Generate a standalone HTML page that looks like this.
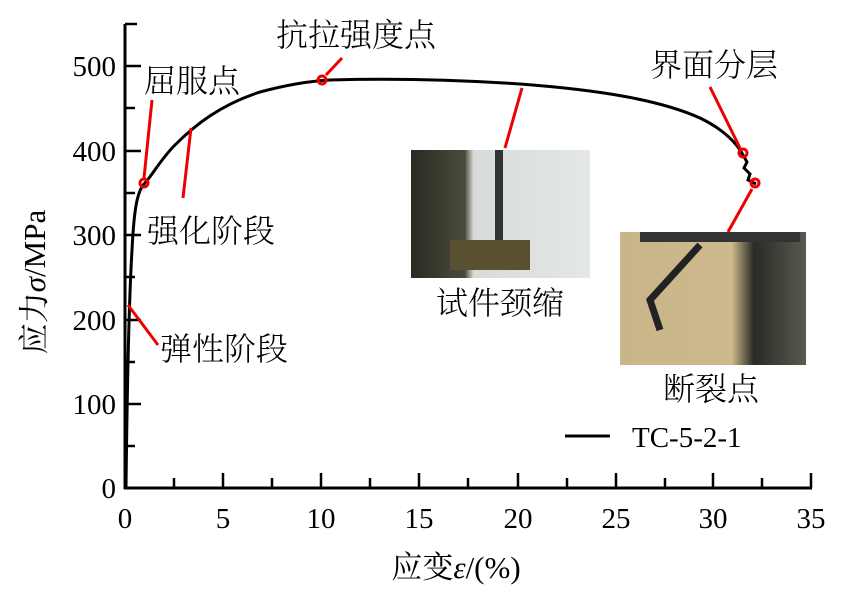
<!DOCTYPE html>
<html><head><meta charset="utf-8"><style>
body{margin:0;background:#fff}
svg text{font-family:"Liberation Serif","Noto Serif CJK SC","Noto Sans CJK SC",serif;fill:#000}
</style></head><body>
<svg width="857" height="599" viewBox="0 0 857 599" xmlns="http://www.w3.org/2000/svg">
<defs>
<linearGradient id="p1" x1="0" x2="1"><stop offset="0" stop-color="#2a2a22"/><stop offset="0.3" stop-color="#4a4a3c"/><stop offset="0.35" stop-color="#d8dcd8"/><stop offset="1" stop-color="#e4e8e4"/></linearGradient>
<linearGradient id="p2" x1="0" x2="1"><stop offset="0" stop-color="#c8b58a"/><stop offset="0.6" stop-color="#cdb98c"/><stop offset="0.72" stop-color="#2a2a26"/><stop offset="1" stop-color="#5a5a50"/></linearGradient>
</defs>
<g stroke="#000" stroke-width="3" fill="none">
<line x1="125" y1="24" x2="125" y2="489"/>
<line x1="124" y1="488" x2="812" y2="488"/>
</g>
<g stroke="#000" stroke-width="2.5">
<line x1="125" y1="24" x2="137" y2="24"/>
<line x1="125" y1="66" x2="141" y2="66"/>
<line x1="125" y1="108" x2="135" y2="108"/>
<line x1="125" y1="151" x2="141" y2="151"/>
<line x1="125" y1="193" x2="135" y2="193"/>
<line x1="125" y1="235" x2="141" y2="235"/>
<line x1="125" y1="277" x2="135" y2="277"/>
<line x1="125" y1="320" x2="141" y2="320"/>
<line x1="125" y1="362" x2="135" y2="362"/>
<line x1="125" y1="404" x2="141" y2="404"/>
<line x1="125" y1="446" x2="135" y2="446"/>
<line x1="174" y1="488" x2="174" y2="478"/>
<line x1="223" y1="488" x2="223" y2="473"/>
<line x1="272" y1="488" x2="272" y2="478"/>
<line x1="321" y1="488" x2="321" y2="473"/>
<line x1="370" y1="488" x2="370" y2="478"/>
<line x1="419" y1="488" x2="419" y2="473"/>
<line x1="468" y1="488" x2="468" y2="478"/>
<line x1="518" y1="488" x2="518" y2="473"/>
<line x1="567" y1="488" x2="567" y2="478"/>
<line x1="616" y1="488" x2="616" y2="473"/>
<line x1="665" y1="488" x2="665" y2="478"/>
<line x1="713" y1="488" x2="713" y2="473"/>
<line x1="762" y1="488" x2="762" y2="478"/>
<line x1="811" y1="488" x2="811" y2="473"/>
</g>
<g font-size="29" text-anchor="end">
<text x="116" y="498">0</text><text x="116" y="414">100</text><text x="116" y="330">200</text>
<text x="116" y="245">300</text><text x="116" y="161">400</text><text x="116" y="76">500</text>
</g>
<g font-size="29" text-anchor="middle">
<text x="125" y="528">0</text><text x="223" y="528">5</text><text x="321" y="528">10</text>
<text x="419" y="528">15</text><text x="518" y="528">20</text><text x="616" y="528">25</text>
<text x="713" y="528">30</text><text x="811" y="528">35</text>
</g>
<text x="456" y="578" font-size="31" text-anchor="middle">应变<tspan font-style="italic">ε</tspan>/(%)</text>
<text transform="translate(45,282) rotate(-90)" font-size="31" text-anchor="middle">应力<tspan font-style="italic">σ</tspan>/MPa</text>
<rect x="411" y="150" width="179" height="128" fill="url(#p1)"/>
<rect x="495" y="150" width="8" height="120" fill="#333"/>
<rect x="450" y="240" width="80" height="30" fill="#5a5032"/>
<rect x="620" y="232" width="186" height="133" fill="url(#p2)"/>
<path d="M700 245 L650 300 L660 330" stroke="#222" stroke-width="7" fill="none"/>
<rect x="640" y="232" width="160" height="10" fill="#333"/>
<path d="M126 488 C127 400,129 300,132 250 C134 210,137 192,144 184 C152 176,160 160,175 145 C195 125,220 105,260 92 C290 84,310 81,330 80 C400 78,460 80,520 84 C600 90,660 100,700 118 C725 130,738 145,743 155 L747 162 L744 168 L750 174 L748 180 L756 184" stroke="#000" stroke-width="3" fill="none"/>
<g stroke="#e00" stroke-width="3" fill="none">
<line x1="152" y1="100" x2="144" y2="178"/>
<line x1="191" y1="128" x2="183" y2="198"/>
<line x1="326" y1="75" x2="342" y2="58"/>
<line x1="522" y1="88" x2="505" y2="148"/>
<line x1="710" y1="87" x2="740" y2="148"/>
<line x1="752" y1="189" x2="728" y2="232"/>
<line x1="128" y1="305" x2="158" y2="345"/>
<circle cx="144" cy="183" r="4"/>
<circle cx="322" cy="80" r="4"/>
<circle cx="743" cy="153" r="4"/>
<circle cx="755" cy="183" r="4"/>
</g>
<g font-size="32" font-family="Noto Sans CJK SC" font-weight="300">
<text x="144" y="92">屈服点</text>
<text x="276" y="46">抗拉强度点</text>
<text x="650" y="76">界面分层</text>
<text x="147" y="242">强化阶段</text>
<text x="160" y="360">弹性阶段</text>
<text x="436" y="314">试件颈缩</text>
<text x="663" y="400">断裂点</text>
</g>
<line x1="565" y1="436" x2="610" y2="436" stroke="#000" stroke-width="3"/>
<text x="632" y="447" font-size="29">TC-5-2-1</text>
</svg>
</body></html>
